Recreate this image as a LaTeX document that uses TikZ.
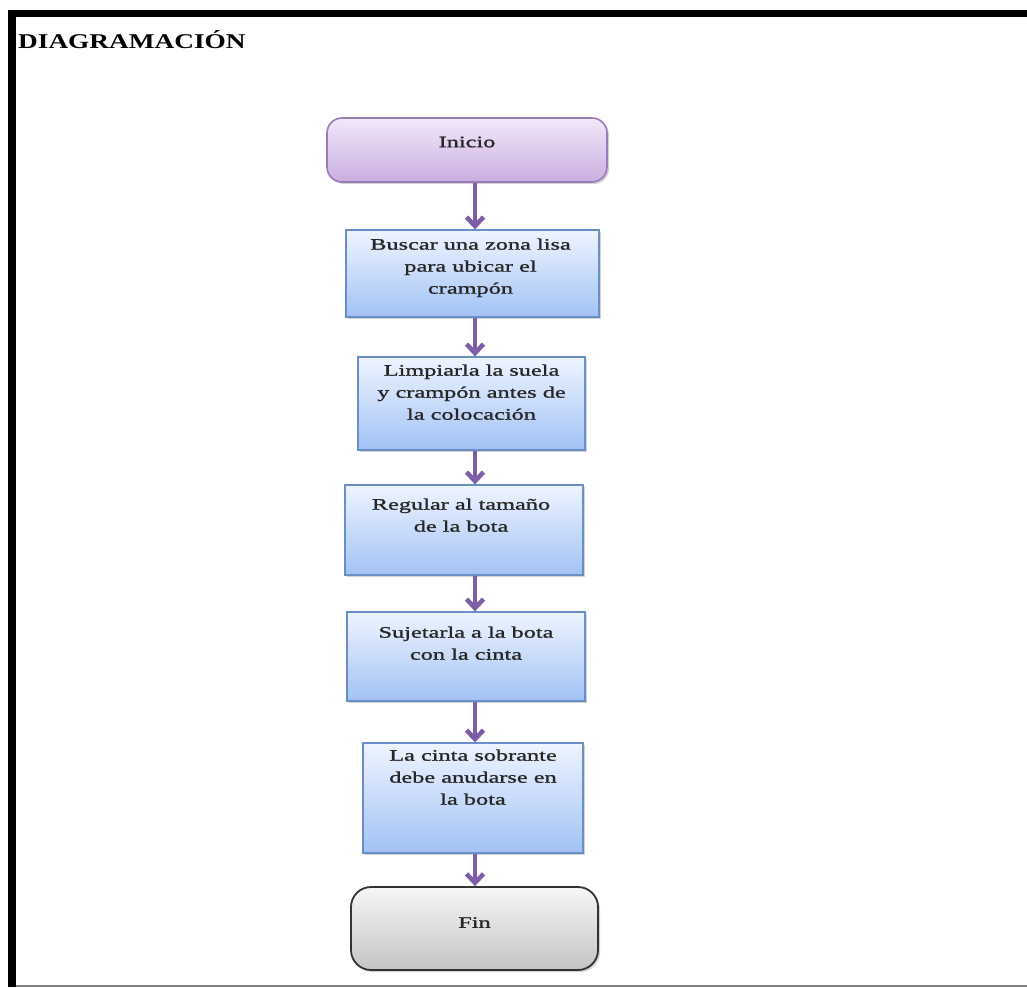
\documentclass[tikz,border=0pt]{standalone}
\usepackage{fontspec}
\setmainfont{Liberation Serif}
\newfontfamily\boxfont[FakeStretch=1.52,FakeBold=1.2]{Liberation Serif}
\newfontfamily\titlefont[FakeStretch=1.3]{Liberation Serif}
\usetikzlibrary{arrows.meta,shadows,calc}
\definecolor{inibord}{HTML}{9A7CB8}
\definecolor{initop}{HTML}{F3E8FA}
\definecolor{inibot}{HTML}{C9AEE0}
\definecolor{bluebord}{HTML}{6A8FC8}
\definecolor{bluetop}{HTML}{EEF4FF}
\definecolor{bluebot}{HTML}{A2C2F4}
\definecolor{finbord}{HTML}{333333}
\definecolor{fintop}{HTML}{F6F6F6}
\definecolor{finbot}{HTML}{C4C4C4}
\definecolor{arrowc}{HTML}{7B5EA7}
\begin{document}
\begin{tikzpicture}[x=1pt,y=-1pt,
  shad/.style={drop shadow={shadow xshift=2pt,shadow yshift=-2pt,opacity=0.35,fill=gray}},
  stepbox/.style={draw=bluebord,line width=1.3pt,top color=bluetop,bottom color=bluebot,
    shad,inner sep=0pt,rectangle},
  termini/.style={draw=inibord,line width=1.6pt,top color=initop,bottom color=inibot,
    shad,inner sep=0pt,rounded corners=15pt,rectangle},
  termfin/.style={draw=finbord,line width=1.8pt,top color=fintop,bottom color=finbot,
    shad,inner sep=0pt,rounded corners=20pt,rectangle},
  txt/.style={font=\boxfont\fontsize{16}{22}\selectfont,align=center,anchor=north,inner sep=0pt,text=black!85},
  arr/.style={draw=arrowc,line width=4.5pt,-{Straight Barb[length=9pt,width=17pt]}}]
\useasboundingbox (0,0) rectangle (1027,987);
\fill[white] (0,0) rectangle (1027,987);
% frame
\fill[black] (8,10) rectangle (1027,17);
\fill[black] (8,10) rectangle (16,987);
\draw[gray,line width=1.5pt] (16,986) -- (1027,986);
% title
\node[anchor=base west,inner sep=0pt,font=\titlefont\bfseries\fontsize{21}{21}\selectfont] (title) at (18,49) {DIAGRAMACIÓN};
% boxes
\node[termini,minimum width=280pt,minimum height=64pt] (ini) at (467,150) {};
\node[stepbox,minimum width=253pt,minimum height=87pt] (b1) at (472.5,273.5) {};
\node[stepbox,minimum width=227pt,minimum height=93pt] (b2) at (471.5,403.5) {};
\node[stepbox,minimum width=238pt,minimum height=90pt] (b3) at (464,530) {};
\node[stepbox,minimum width=238pt,minimum height=89pt] (b4) at (466,656.5) {};
\node[stepbox,minimum width=220pt,minimum height=110pt] (b5) at (473,798) {};
\node[termfin,minimum width=247pt,minimum height=83pt] (fin) at (474.5,928.5) {};
% texts
\node[txt,anchor=center] (tini) at ($(ini.center)+(0,-8)$) {Inicio};
\node[txt] (t1) at ($(b1.north)+(-2,9)$) {Buscar una zona lisa\\para ubicar el\\crampón};
\node[txt] (t2) at ($(b2.north)+(0,8)$) {Limpiarla la suela\\y crampón antes de\\la colocación};
\node[txt] (t3) at ($(b3.north)+(-3,14)$) {Regular al tamaño\\de la bota};
\node[txt] (t4) at ($(b4.north)+(0,15)$) {Sujetarla a la bota\\con la cinta};
\node[txt] (t5) at ($(b5.north)+(0,7)$) {La cinta sobrante\\debe anudarse en\\la bota};
\node[txt,anchor=center] (tfin) at ($(fin.center)+(0,-6)$) {Fin};
% connectors
\coordinate (ax) at (475,0);
\draw[arr] (ini.south -| ax) -- (b1.north -| ax);
\draw[arr] (b1.south -| ax) -- (b2.north -| ax);
\draw[arr] (b2.south -| ax) -- (b3.north -| ax);
\draw[arr] (b3.south -| ax) -- (b4.north -| ax);
\draw[arr] (b4.south -| ax) -- (b5.north -| ax);
\draw[arr] (b5.south -| ax) -- (fin.north -| ax);
\end{tikzpicture}
\end{document}
